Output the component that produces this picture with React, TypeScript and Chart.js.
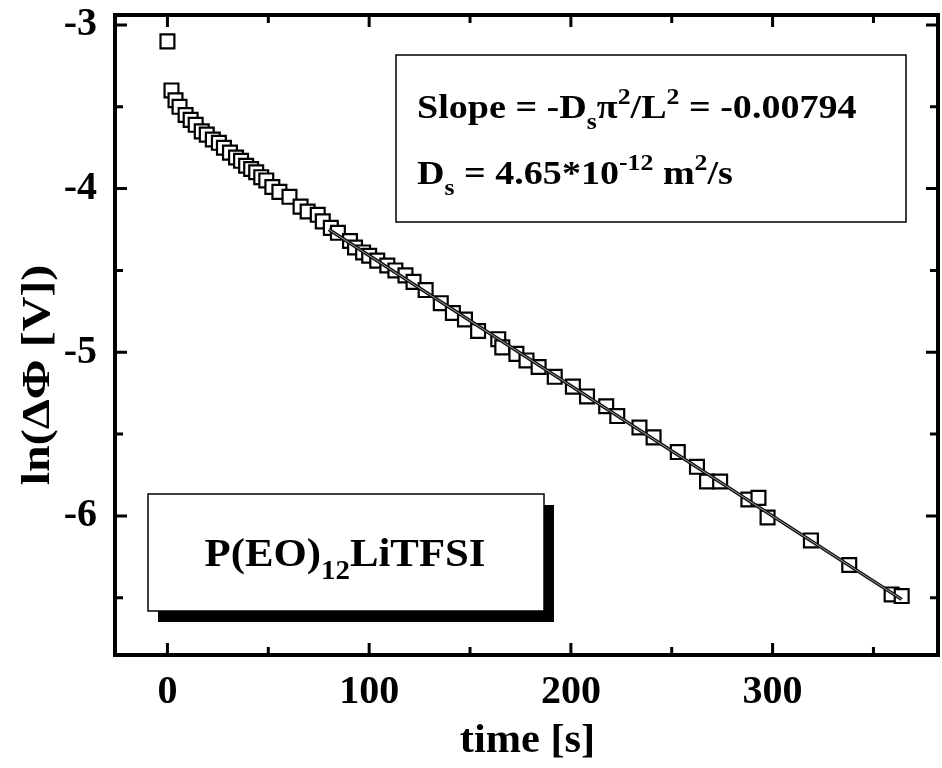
import React, { useEffect, useRef } from 'react';
import { Chart, registerables } from 'chart.js';

Chart.register(...registerables);

// ---- data ----
const timeS = [0, 2, 4, 6, 9, 11.5, 14, 17, 19.5, 22.5, 25.5, 28, 31, 34, 36.5, 39, 41.5, 44, 46.5, 49, 52, 55.5, 60.5, 66, 69.5, 74.5, 77, 81, 84.5, 90.5, 93, 97, 100, 104, 109, 113, 118, 122, 128, 135.5, 141.5, 147.5, 154, 164, 166, 173, 178, 184, 192, 201, 208, 217.5, 223, 234, 241, 253, 262.5, 267.5, 274, 288, 293, 297.5, 319, 338, 359, 364];
const lnDPhi = [-3.1, -3.4, -3.46, -3.5, -3.55, -3.58, -3.61, -3.65, -3.67, -3.7, -3.72, -3.75, -3.78, -3.81, -3.83, -3.86, -3.88, -3.9, -3.93, -3.95, -3.99, -4.02, -4.05, -4.11, -4.14, -4.16, -4.2, -4.24, -4.27, -4.32, -4.36, -4.39, -4.41, -4.44, -4.47, -4.5, -4.53, -4.57, -4.62, -4.7, -4.76, -4.8, -4.87, -4.92, -4.97, -5.01, -5.05, -5.09, -5.15, -5.21, -5.27, -5.33, -5.39, -5.46, -5.52, -5.61, -5.7, -5.79, -5.79, -5.9, -5.89, -6.01, -6.15, -6.3, -6.48, -6.49];
const fitTime = [80, 364];
const fitLn = [-4.25, -6.51];

const xMajorTicks = [0, 100, 200, 300];
const xMinorTicks = [50, 150, 250, 350];
const yMajorTicks = [-3, -4, -5, -6];
const yMinorTicks = [-3.5, -4.5, -5.5, -6.5];
const xTickLabels = ['0', '100', '200', '300'];
const yTickLabels = ['-3', '-4', '-5', '-6'];
const xTitle = 'time [s]';
const yTitle = 'ln(ΔΦ [V])';

type Run = [string, 'n' | 'sub' | 'sup'];
const slopeLine: Run[] = [['Slope = -D', 'n'], ['s', 'sub'], ['π', 'n'], ['2', 'sup'], ['/L', 'n'], ['2', 'sup'], [' = -0.00794', 'n']];
const diffLine: Run[] = [['D', 'n'], ['s', 'sub'], [' = 4.65*10', 'n'], ['-12', 'sup'], [' m', 'n'], ['2', 'sup'], ['/s', 'n']];
const sampleLine: Run[] = [['P(EO)', 'n'], ['12', 'sub'], ['LiTFSI', 'n']];
const xTitleRuns: Run[] = [[xTitle, 'n']];
const yTitleRuns: Run[] = [[yTitle, 'n']];

const FAMILY = '"Liberation Serif", "DejaVu Serif", serif';

function drawRuns(
  ctx: CanvasRenderingContext2D, runs: Run[], x: number, y: number, size: number,
  align: 'left' | 'center', stretch = 1, rotate = 0,
) {
  const small = Math.round(size * 0.68);
  const widths = runs.map(([t, m]) => {
    ctx.font = `bold ${m === 'n' ? size : small}px ${FAMILY}`;
    return ctx.measureText(t).width;
  });
  const total = widths.reduce((a, b) => a + b, 0);
  ctx.save();
  ctx.translate(x, y);
  if (rotate) ctx.rotate(rotate);
  ctx.scale(stretch, 1);
  let cx = align === 'center' ? -total / 2 : 0;
  ctx.textAlign = 'left';
  ctx.textBaseline = align === 'center' && rotate ? 'middle' : 'alphabetic';
  runs.forEach(([t, m], i) => {
    ctx.font = `bold ${m === 'n' ? size : small}px ${FAMILY}`;
    const dy = m === 'sub' ? size * 0.32 : m === 'sup' ? -size * 0.42 : 0;
    ctx.fillText(t, cx, dy);
    cx += widths[i];
  });
  ctx.restore();
}

const framePlugin = {
  id: 'frameTicks',
  afterDatasetsDraw(chart: any) {
    const { ctx, chartArea: a, scales } = chart;
    const xs = scales.x, ys = scales.y;
    ctx.save();
    ctx.strokeStyle = '#000';
    ctx.lineWidth = 4;
    ctx.strokeRect(a.left, a.top, a.right - a.left, a.bottom - a.top);
    ctx.lineWidth = 3;
    const tick = (vals: number[], len: number) => {
      vals.forEach((v) => {
        const px = xs.getPixelForValue(v);
        ctx.beginPath();
        ctx.moveTo(px, a.bottom); ctx.lineTo(px, a.bottom - len);
        ctx.moveTo(px, a.top); ctx.lineTo(px, a.top + len);
        ctx.stroke();
      });
    };
    const ytick = (vals: number[], len: number) => {
      vals.forEach((v) => {
        const py = ys.getPixelForValue(v);
        ctx.beginPath();
        ctx.moveTo(a.left, py); ctx.lineTo(a.left + len, py);
        ctx.moveTo(a.right, py); ctx.lineTo(a.right - len, py);
        ctx.stroke();
      });
    };
    tick(xMajorTicks, 12);
    tick(xMinorTicks, 8);
    ytick(yMajorTicks, 12);
    ytick(yMinorTicks, 8);
    ctx.restore();
  },
  afterDraw(chart: any) {
    const { ctx, chartArea: a } = chart;
    ctx.save();
    ctx.fillStyle = '#000';
    ctx.strokeStyle = '#000';
    // axis titles
    drawRuns(ctx, xTitleRuns, (a.left + a.right) / 2 + 1, 752, 40, 'center', 1.06);
    drawRuns(ctx, yTitleRuns, 39, 375, 40, 'center', 1.2, -Math.PI / 2);
    // result box
    ctx.lineWidth = 1.5;
    ctx.fillStyle = '#fff';
    ctx.fillRect(396, 55, 510, 167);
    ctx.strokeRect(396, 55, 510, 167);
    ctx.fillStyle = '#000';
    drawRuns(ctx, slopeLine, 417, 118, 34, 'left', 1.12);
    drawRuns(ctx, diffLine, 417, 184, 34, 'left', 1.12);
    // sample box with shadow
    ctx.fillStyle = '#000';
    ctx.fillRect(158, 505, 396, 117);
    ctx.fillStyle = '#fff';
    ctx.fillRect(148, 494, 396, 117);
    ctx.lineWidth = 1.5;
    ctx.strokeRect(148, 494, 396, 117);
    ctx.fillStyle = '#000';
    drawRuns(ctx, sampleLine, 345, 566, 40, 'center', 1.07);
    ctx.restore();
  },
};

const CANVAS_W = 950;

export default function App() {
  const ref = useRef<HTMLCanvasElement | null>(null);
  useEffect(() => {
    document.body.style.margin = '0';
    const canvas = ref.current;
    if (!canvas) return;
    const tickFont = { family: FAMILY, size: 40, weight: 'bold' as const };
    const chart = new Chart(canvas, {
      type: 'scatter',
      data: {
        datasets: [
          {
            type: 'line',
            data: fitTime.map((t, i) => ({ x: t, y: fitLn[i] })),
            borderColor: '#9a9a9a',
            borderWidth: 1,
            pointRadius: 0,
            order: 0,
          },
          {
            type: 'line',
            data: fitTime.map((t, i) => ({ x: t, y: fitLn[i] })),
            borderColor: '#111',
            borderWidth: 3.5,
            pointRadius: 0,
            order: 1,
          },
          {
            data: timeS.map((t, i) => ({ x: t, y: lnDPhi[i] })),
            pointStyle: 'rect',
            pointRadius: 9.8,
            borderWidth: 2.2,
            borderColor: '#000',
            backgroundColor: '#fff',
            order: 2,
          },
        ],
      } as any,
      options: {
        animation: false,
        responsive: false,
        events: [],
        layout: { padding: { top: 15, right: 0, left: 0, bottom: 0 } },
        plugins: { legend: { display: false }, tooltip: { enabled: false } },
        scales: {
          x: {
            type: 'linear',
            min: -26,
            max: 382,
            grid: { display: false, drawTicks: false },
            border: { display: false },
            afterBuildTicks: (s: any) => { s.ticks = xMajorTicks.map((v) => ({ value: v })); },
            afterFit: (s: any) => { s.height = 113; s.paddingLeft = 0; s.paddingRight = 0; },
            ticks: {
              autoSkip: false,
              maxRotation: 0,
              padding: 14,
              color: '#000',
              font: tickFont,
              callback: (v: any) => xTickLabels[xMajorTicks.indexOf(Number(v))] ?? '',
            },
            title: { display: false },
          },
          y: {
            type: 'linear',
            min: -6.85,
            max: -2.939,
            grid: { display: false, drawTicks: false },
            border: { display: false },
            afterBuildTicks: (s: any) => { s.ticks = yMajorTicks.map((v) => ({ value: v })); },
            afterFit: (s: any) => { s.width = 115; s.paddingTop = 0; s.paddingBottom = 0; },
            ticks: {
              autoSkip: false,
              padding: 18,
              color: '#000',
              font: tickFont,
              callback: (v: any) => yTickLabels[yMajorTicks.indexOf(Number(v))] ?? '',
            },
            title: { display: false },
          },
        },
      } as any,
      plugins: [framePlugin],
    });
    return () => chart.destroy();
  }, []);
  return (
    <div style={{ position: 'absolute', left: 0, top: 0, width: 942, height: 768, overflow: 'hidden', background: '#fff' }}>
      <canvas ref={ref} width={CANVAS_W} height={768} style={{ display: 'block' }} />
    </div>
  );
}
